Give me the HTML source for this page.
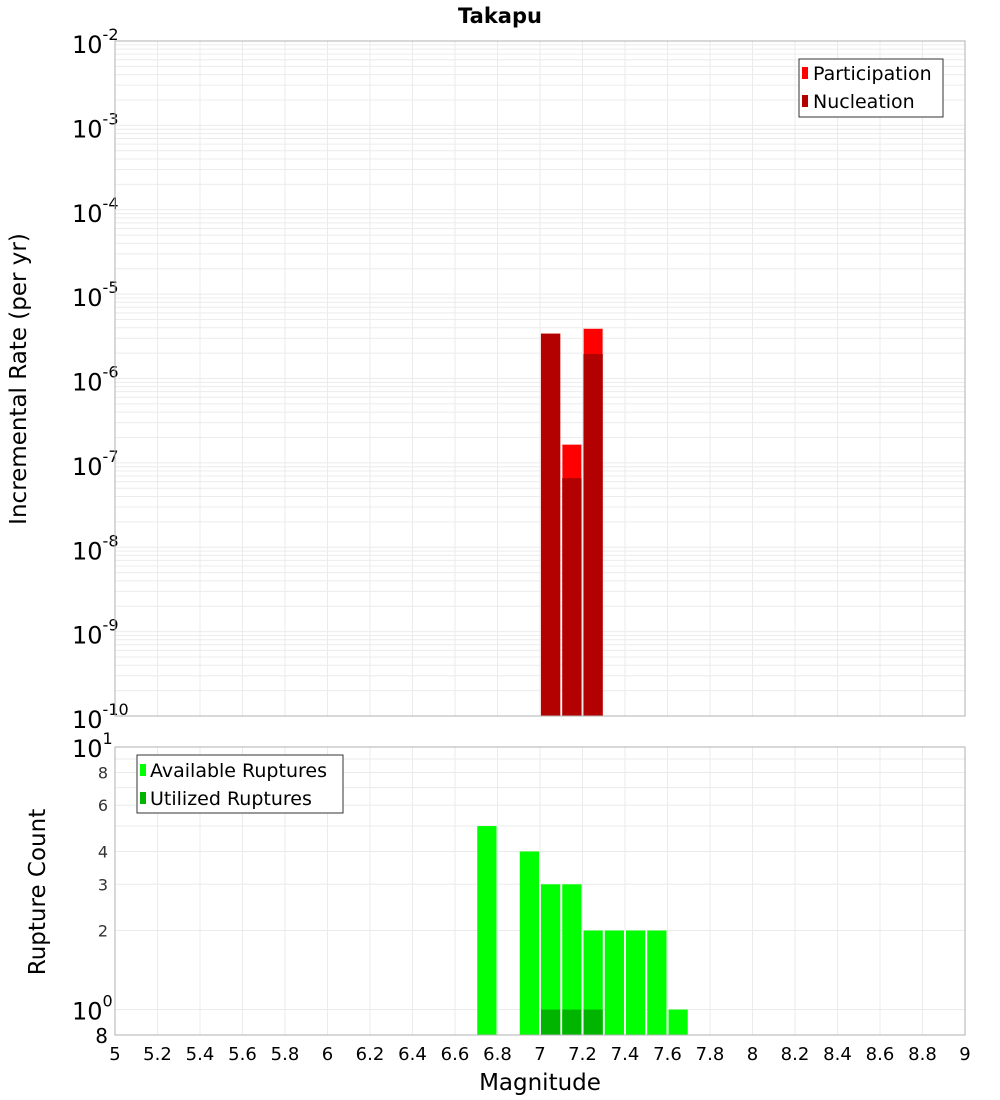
<!DOCTYPE html>
<html><head><meta charset="utf-8"><style>
body{margin:0;background:#fff;font-family:"DejaVu Sans","Liberation Sans",sans-serif}
svg{display:block}
</style></head><body>
<svg id="c" width="1000" height="1100" xmlns="http://www.w3.org/2000/svg">
<text x="500" y="23" text-anchor="middle" font-size="21" font-weight="bold">Takapu</text>
<g id="top"></g>
<g id="bot"></g>
<text transform="translate(26,379) rotate(-90)" text-anchor="middle" font-size="23">Incremental Rate (per yr)</text>
<text transform="translate(45,892) rotate(-90)" text-anchor="middle" font-size="23">Rupture Count</text>
<text x="540" y="1090" text-anchor="middle" font-size="23">Magnitude</text>
<g>
<rect x="799" y="59" width="144" height="58" fill="#fff" stroke="#333"/>
<rect x="802" y="67" width="6" height="12" fill="#ff0000"/>
<text x="813" y="80" font-size="19">Participation</text>
<rect x="802" y="95" width="6" height="12" fill="#b30000"/>
<text x="813" y="108" font-size="19">Nucleation</text>
</g>
<g>
<rect x="137" y="755" width="206" height="58" fill="#fff" stroke="#333"/>
<rect x="140" y="764" width="6" height="12" fill="#00ff00"/>
<text x="150" y="777" font-size="19">Available Ruptures</text>
<rect x="140" y="792" width="6" height="12" fill="#00b400"/>
<text x="150" y="805" font-size="19">Utilized Ruptures</text>
</g>
</svg>
<script>
const mags=[6.75,6.95,7.05,7.15,7.25,7.35,7.45,7.55,7.65];
const available=[5,4,3,3,2,2,2,2,1];
const utilized=[0,0,1,1,1,0,0,0,0];
const rateMags=[7.05,7.15,7.25];
const participation=[3.4e-6,1.65e-7,3.9e-6];
const nucleation=[3.4e-6,6.6e-8,1.95e-6];
const xTicks=[5,5.2,5.4,5.6,5.8,6,6.2,6.4,6.6,6.8,7,7.2,7.4,7.6,7.8,8,8.2,8.4,8.6,8.8,9];
const topExps=[-2,-3,-4,-5,-6,-7,-8,-9,-10];
const botTicks=[8,6,4,3,2];

const NS="http://www.w3.org/2000/svg";
const L=115,R=965;
const X=m=>L+(m-5)/4*(R-L);
const T0=41,T1=716;
const YT=v=>T0+(-2-Math.log10(v))/8*(T1-T0);
const B0=747,B1=1035;
const YB=v=>B0+(1-Math.log10(v))/(1-Math.log10(0.8))*(B1-B0);
function el(p,t,a,txt){const e=document.createElementNS(NS,t);for(const k in a)e.setAttribute(k,a[k]);if(txt!==undefined)e.textContent=txt;p.appendChild(e);return e;}
const gTop=document.getElementById('top'),gBot=document.getElementById('bot');
el(gTop,'rect',{x:L,y:T0,width:R-L,height:T1-T0,fill:'#fff'});
el(gBot,'rect',{x:L,y:B0,width:R-L,height:B1-B0,fill:'#fff'});
for(let e=-10;e<-2;e++){for(let k=1;k<10;k++){const v=k*Math.pow(10,e);el(gTop,'line',{x1:L,x2:R,y1:YT(v),y2:YT(v),stroke:'#ececec'});}}
xTicks.forEach(m=>{
  const g=el(gTop,'line',{x1:X(m),x2:X(m),y1:T0,y2:T1,stroke:'#ebebeb'});
  
  
  el(gBot,'line',{x1:X(m),x2:X(m),y1:B0,y2:B1,stroke:'#ebebeb'});
  const t=el(gBot,'text',{x:X(m),y:1060,'text-anchor':'middle','font-size':18},String(m));
  
  
});
topExps.forEach(e=>{
  const y=YT(Math.pow(10,e));
  const t=el(gTop,'text',{x:72,y:y+12,'font-size':24});
  
  
  el(t,'tspan',{},'10');
  el(t,'tspan',{dy:-13,'font-size':16},String(e));
});
[1,2,3,4,5,6,7,8,9,10].forEach(v=>el(gBot,'line',{x1:L,x2:R,y1:YB(v),y2:YB(v),stroke:'#ebebeb'}));
botTicks.forEach(v=>{
  const t=el(gBot,'text',{x:108,y:YB(v)+6,'text-anchor':'end','font-size':16,fill:'#333'},String(v));
  
  
});
[[1,YB(10)],[0,YB(1)]].forEach(([e,y])=>{
  const t=el(gBot,'text',{x:72,y:y+10,'font-size':24});
  el(t,'tspan',{},'10');el(t,'tspan',{dy:-13,'font-size':16},String(e));
});
el(gBot,'text',{x:108,y:B1+8,'text-anchor':'end','font-size':20},'8');
const bw=(X(5.1)-X(5));
rateMags.forEach((m,i)=>{
  const x=X(m)-bw/2+1;
  const p=el(gTop,'rect',{x:x,y:YT(participation[i]),width:bw-2,height:T1-YT(participation[i]),fill:'#ff0000',stroke:'#ffb0b0','stroke-width':0.6});
  
  
  const n=el(gTop,'rect',{x:x,y:YT(nucleation[i]),width:bw-2,height:T1-YT(nucleation[i]),fill:'#b30000'});
  
  
});
mags.forEach((m,i)=>{
  const x=X(m)-bw/2+1;
  const a=el(gBot,'rect',{x:x,y:YB(available[i]),width:bw-2,height:B1-YB(available[i]),fill:'#00ff00'});
  
  
  if(utilized[i]>0){
    const u=el(gBot,'rect',{x:x,y:YB(utilized[i]),width:bw-2,height:B1-YB(utilized[i]),fill:'#00b400'});
    
    
  }
});
el(gTop,'rect',{x:L,y:T0,width:R-L,height:T1-T0,fill:'none',stroke:'#b0b0b0'});
el(gBot,'rect',{x:L,y:B0,width:R-L,height:B1-B0,fill:'none',stroke:'#b0b0b0'});
</script>
</body></html>
